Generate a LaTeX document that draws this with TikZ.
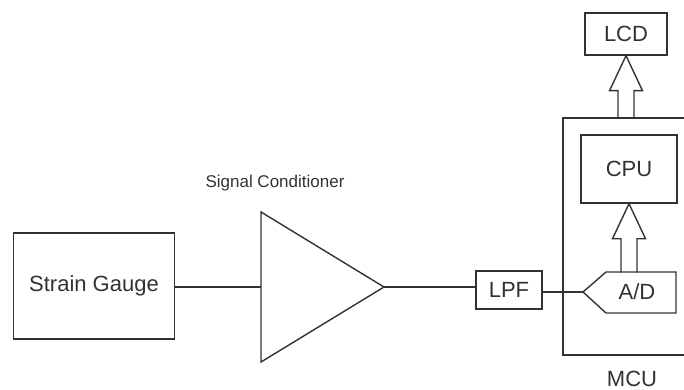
\documentclass[tikz,border=0pt]{standalone}
\usepackage{fontspec}
\setmainfont{Liberation Sans}
\usetikzlibrary{positioning}
\definecolor{ink}{RGB}{50,50,50}

\begin{document}
\begin{tikzpicture}[x=1pt, y=-1pt, line width=1.4pt, draw=ink, text=ink,
  block/.style={draw=ink, rectangle, inner sep=0pt, font=\fontsize{22}{26}\selectfont},
  label text/.style={font=\fontsize{22}{26}\selectfont}]

  \useasboundingbox (0,0) rectangle (684,390);

  % sensor and amplifier
  \node[block, minimum width=161pt, minimum height=106pt] (gauge) at (94,286) {Strain Gauge};
  \coordinate (amp in)  at (261,287);
  \coordinate (amp out) at (384,287);
  \draw[ink] (amp in) -- ++(0,-75) -- (amp out) -- (261,362) -- cycle;
  \node[font=\fontsize{17}{20}\selectfont] (cond) at (275,183) {Signal Conditioner};

  % filter
  \node[block, minimum width=66pt, minimum height=38pt] (lpf) at (509,290) {LPF};

  % micro controller
  \draw[ink] (684,118) -- (563,118) -- (563,355) -- (684,355);
  \node[label text, inner sep=0pt, anchor=base] (mcu) at (632,386) {MCU};
  \coordinate (ad tip) at (583,292);
  \draw[ink] (ad tip) -- (606,272) -- (676,272) -- (676,313) -- (606,313) -- cycle;
  \node[label text] (ad) at (637,292) {A/D};
  \node[block, minimum width=96pt, minimum height=68pt] (cpu) at (629,169) {CPU};
  \node[block, minimum width=82pt, minimum height=42pt] (lcd) at (626,34) {LCD};

  % wires
  \draw[ink] (gauge.east |- amp in) -- (amp in);
  \draw[ink] (amp out) -- (amp out -| lpf.west);
  \draw[ink] (lpf.east |- ad tip) -- (ad tip);

  % bus arrows
  \draw[ink] (cpu.south) ++(-8,69) -- ++(0,-34) -- ++(-8.5,0) -- (cpu.south)
    -- ++(16.5,35) -- ++(-8.5,0) -- ++(0,34);
  \draw[ink] (lcd.south) ++(-8,63) -- ++(0,-28) -- ++(-8.5,0) -- (lcd.south)
    -- ++(16.5,35) -- ++(-8.5,0) -- ++(0,28);

\end{tikzpicture}
\end{document}
